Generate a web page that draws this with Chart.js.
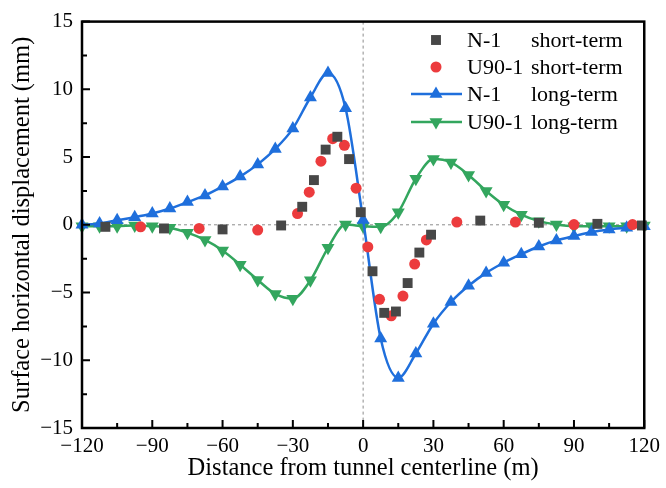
<!DOCTYPE html>
<html>
<head>
<meta charset="utf-8">
<script src="https://cdn.jsdelivr.net/npm/chart.js@4/dist/chart.umd.min.js"></script>
<style>
html, body { margin: 0; padding: 0; background: #fff; }
</style>
</head>
<body>
<canvas id="chart_disp" width="666" height="488"></canvas>
<script>
// long-term curves, every 7.5 m
const xLong = [-120, -112.5, -105, -97.5, -90, -82.5, -75, -67.5, -60, -52.5, -45, -37.5, -30, -22.5, -15, -7.5, 0,
               7.5, 15, 22.5, 30, 37.5, 45, 52.5, 60, 67.5, 75, 82.5, 90, 97.5, 105, 112.5, 120];
const n1Long = [0, 0.1, 0.34, 0.56, 0.83, 1.2, 1.68, 2.17, 2.83, 3.56, 4.46, 5.6, 7.1, 9.4, 11.2, 8.6, 0.35,
                -8.4, -11.3, -9.5, -7.3, -5.7, -4.5, -3.55, -2.8, -2.17, -1.6, -1.15, -0.83, -0.53, -0.34, -0.22, -0.1];
const u90Long = [-0.1, -0.1, -0.1, -0.05, -0.1, -0.22, -0.58, -1.12, -1.9, -2.95, -4.07, -5.1, -5.45, -4.1, -1.7, 0.02, -0.1,
                 -0.15, 0.93, 3.4, 4.85, 4.6, 3.68, 2.5, 1.48, 0.75, 0.27, 0.02, -0.1, -0.1, -0.1, -0.1, -0.05];

// short-term measurements
const xN1Short = [-110, -85, -60, -35, -26, -21, -16, -11, -6, -1, 4, 9, 14, 19, 24, 29, 50, 75, 100, 119];
const n1Short = [-0.15, -0.27, -0.34, -0.05, 1.33, 3.3, 5.55, 6.5, 4.85, 0.93, -3.43, -6.5, -6.4, -4.3, -2.05, -0.73, 0.31, 0.15, 0.07, -0.05];
const xU90Short = [-95, -70, -45, -28, -23, -18, -13, -8, -3, 2, 7, 12, 17, 22, 27, 40, 65, 90, 115];
const u90Short = [-0.15, -0.27, -0.39, 0.83, 2.41, 4.7, 6.36, 5.87, 2.7, -1.63, -5.5, -6.72, -5.26, -2.9, -1.12, 0.2, 0.2, 0.02, 0.02];

const seriesNames = ['N-1', 'U90-1', 'N-1', 'U90-1'];
const seriesKinds = ['short-term', 'short-term', 'long-term', 'long-term'];

const xMajor = [-120, -90, -60, -30, 0, 30, 60, 90, 120];
const yMajor = [-15, -10, -5, 0, 5, 10, 15];

const serif = "'Liberation Serif', 'Times New Roman', serif";
const minus = v => String(v).replace('-', '\u2212');
const pts = (xs, ys) => xs.map((x, i) => ({x: x, y: ys[i]}));

const framePlugin = {
    id: 'frame',
    beforeDatasetsDraw(chart) {
        const {ctx, chartArea: a, scales: {x, y}} = chart;
        const x0 = x.getPixelForValue(0), y0 = y.getPixelForValue(0);
        ctx.save();
        ctx.strokeStyle = '#8c8c8c';
        ctx.lineWidth = 1;
        ctx.setLineDash([3, 3]);
        ctx.beginPath();
        ctx.moveTo(x0, a.top); ctx.lineTo(x0, a.bottom);
        ctx.moveTo(a.left, y0); ctx.lineTo(a.right, y0);
        ctx.stroke();
        ctx.restore();
    },
    afterDraw(chart) {
        const {ctx, chartArea: a, scales: {x, y}} = chart;
        ctx.save();
        // inward ticks
        ctx.strokeStyle = '#000';
        ctx.lineWidth = 2;
        ctx.beginPath();
        for (let v = -120; v <= 120; v += 15) {
            const px = x.getPixelForValue(v);
            const len = v % 30 === 0 ? 8 : 5;
            ctx.moveTo(px, a.bottom); ctx.lineTo(px, a.bottom - len);
        }
        for (let v = -15; v <= 15; v += 2.5) {
            const py = y.getPixelForValue(v);
            const len = v % 5 === 0 ? 8 : 5;
            ctx.moveTo(a.left, py); ctx.lineTo(a.left + len, py);
        }
        ctx.stroke();
        // box
        ctx.lineWidth = 2.5;
        ctx.strokeRect(a.left, a.top, a.right - a.left, a.bottom - a.top);

        // legend
        const rows = [40, 67, 94, 122];
        ctx.font = '22px ' + serif;
        ctx.textBaseline = 'middle';
        chart.data.datasets.forEach((ds, i) => {
            const ry = rows[i];
            if (ds.showLine) {
                ctx.strokeStyle = ds.borderColor;
                ctx.lineWidth = ds.borderWidth;
                ctx.beginPath(); ctx.moveTo(411, ry); ctx.lineTo(462, ry); ctx.stroke();
            }
            ctx.fillStyle = ds.backgroundColor;
            ctx.strokeStyle = ds.backgroundColor;
            Chart.helpers.drawPoint(ctx, {pointStyle: ds.pointStyle, radius: ds.pointRadius, rotation: ds.pointRotation || 0, borderWidth: 0}, 436, ry);
            ctx.fillStyle = '#000';
            ctx.textAlign = 'left';
            ctx.fillText(seriesNames[i], 467, ry + 1);
            ctx.fillText(seriesKinds[i], 531, ry + 1);
        });
        ctx.restore();
    }
};

const ctxDisp = document.getElementById('chart_disp').getContext('2d');

const dispChart = new Chart(ctxDisp, {
    type: 'scatter',
    data: {
        datasets: [{
            label: 'N-1 short-term',
            data: pts(xN1Short, n1Short),
            pointStyle: 'rect',
            pointRadius: 7,
            backgroundColor: '#474747',
            borderColor: '#474747',
            borderWidth: 0,
            showLine: false
        }, {
            label: 'U90-1 short-term',
            data: pts(xU90Short, u90Short),
            pointStyle: 'circle',
            pointRadius: 5.5,
            backgroundColor: '#ec3b3d',
            borderColor: '#ec3b3d',
            borderWidth: 0,
            showLine: false
        }, {
            label: 'N-1 long-term',
            data: pts(xLong, n1Long),
            pointStyle: 'triangle',
            pointRadius: 7.5,
            backgroundColor: '#1f6fdc',
            borderColor: '#1f6fdc',
            pointBorderWidth: 0,
            borderWidth: 2.5,
            showLine: true,
            cubicInterpolationMode: 'monotone'
        }, {
            label: 'U90-1 long-term',
            data: pts(xLong, u90Long),
            pointStyle: 'triangle',
            pointRotation: 180,
            pointRadius: 7.5,
            backgroundColor: '#33a65e',
            borderColor: '#33a65e',
            pointBorderWidth: 0,
            borderWidth: 2.5,
            showLine: true,
            cubicInterpolationMode: 'monotone'
        }]
    },
    options: {
        responsive: false,
        animation: false,
        clip: false,
        layout: {padding: {top: 17, right: 18, left: 0, bottom: 0}},
        plugins: {legend: {display: false}, tooltip: {enabled: false}},
        scales: {
            x: {
                type: 'linear',
                min: -120, max: 120,
                afterFit(scale) { scale.height = 60; },
                afterBuildTicks(scale) { scale.ticks = xMajor.map(v => ({value: v})); },
                grid: {display: false, drawTicks: false},
                border: {display: false},
                ticks: {
                    padding: 6,
                    color: '#000',
                    font: {family: serif, size: 21},
                    callback: v => minus(v)
                },
                title: {
                    display: true,
                    text: 'Distance from tunnel centerline (m)',
                    color: '#000',
                    font: {family: serif, size: 24.5},
                    padding: {top: 0, bottom: 5}
                }
            },
            y: {
                min: -15, max: 15,
                afterFit(scale) { scale.width = 82; },
                afterBuildTicks(scale) { scale.ticks = yMajor.map(v => ({value: v})); },
                grid: {display: false, drawTicks: false},
                border: {display: false},
                ticks: {
                    padding: 9,
                    color: '#000',
                    font: {family: serif, size: 21},
                    callback: v => minus(v)
                },
                title: {
                    display: true,
                    text: 'Surface horizontal displacement (mm)',
                    color: '#000',
                    font: {family: serif, size: 24.5},
                    padding: {top: 8, bottom: 0}
                }
            }
        }
    },
    plugins: [framePlugin]
});
</script>
</body>
</html>
